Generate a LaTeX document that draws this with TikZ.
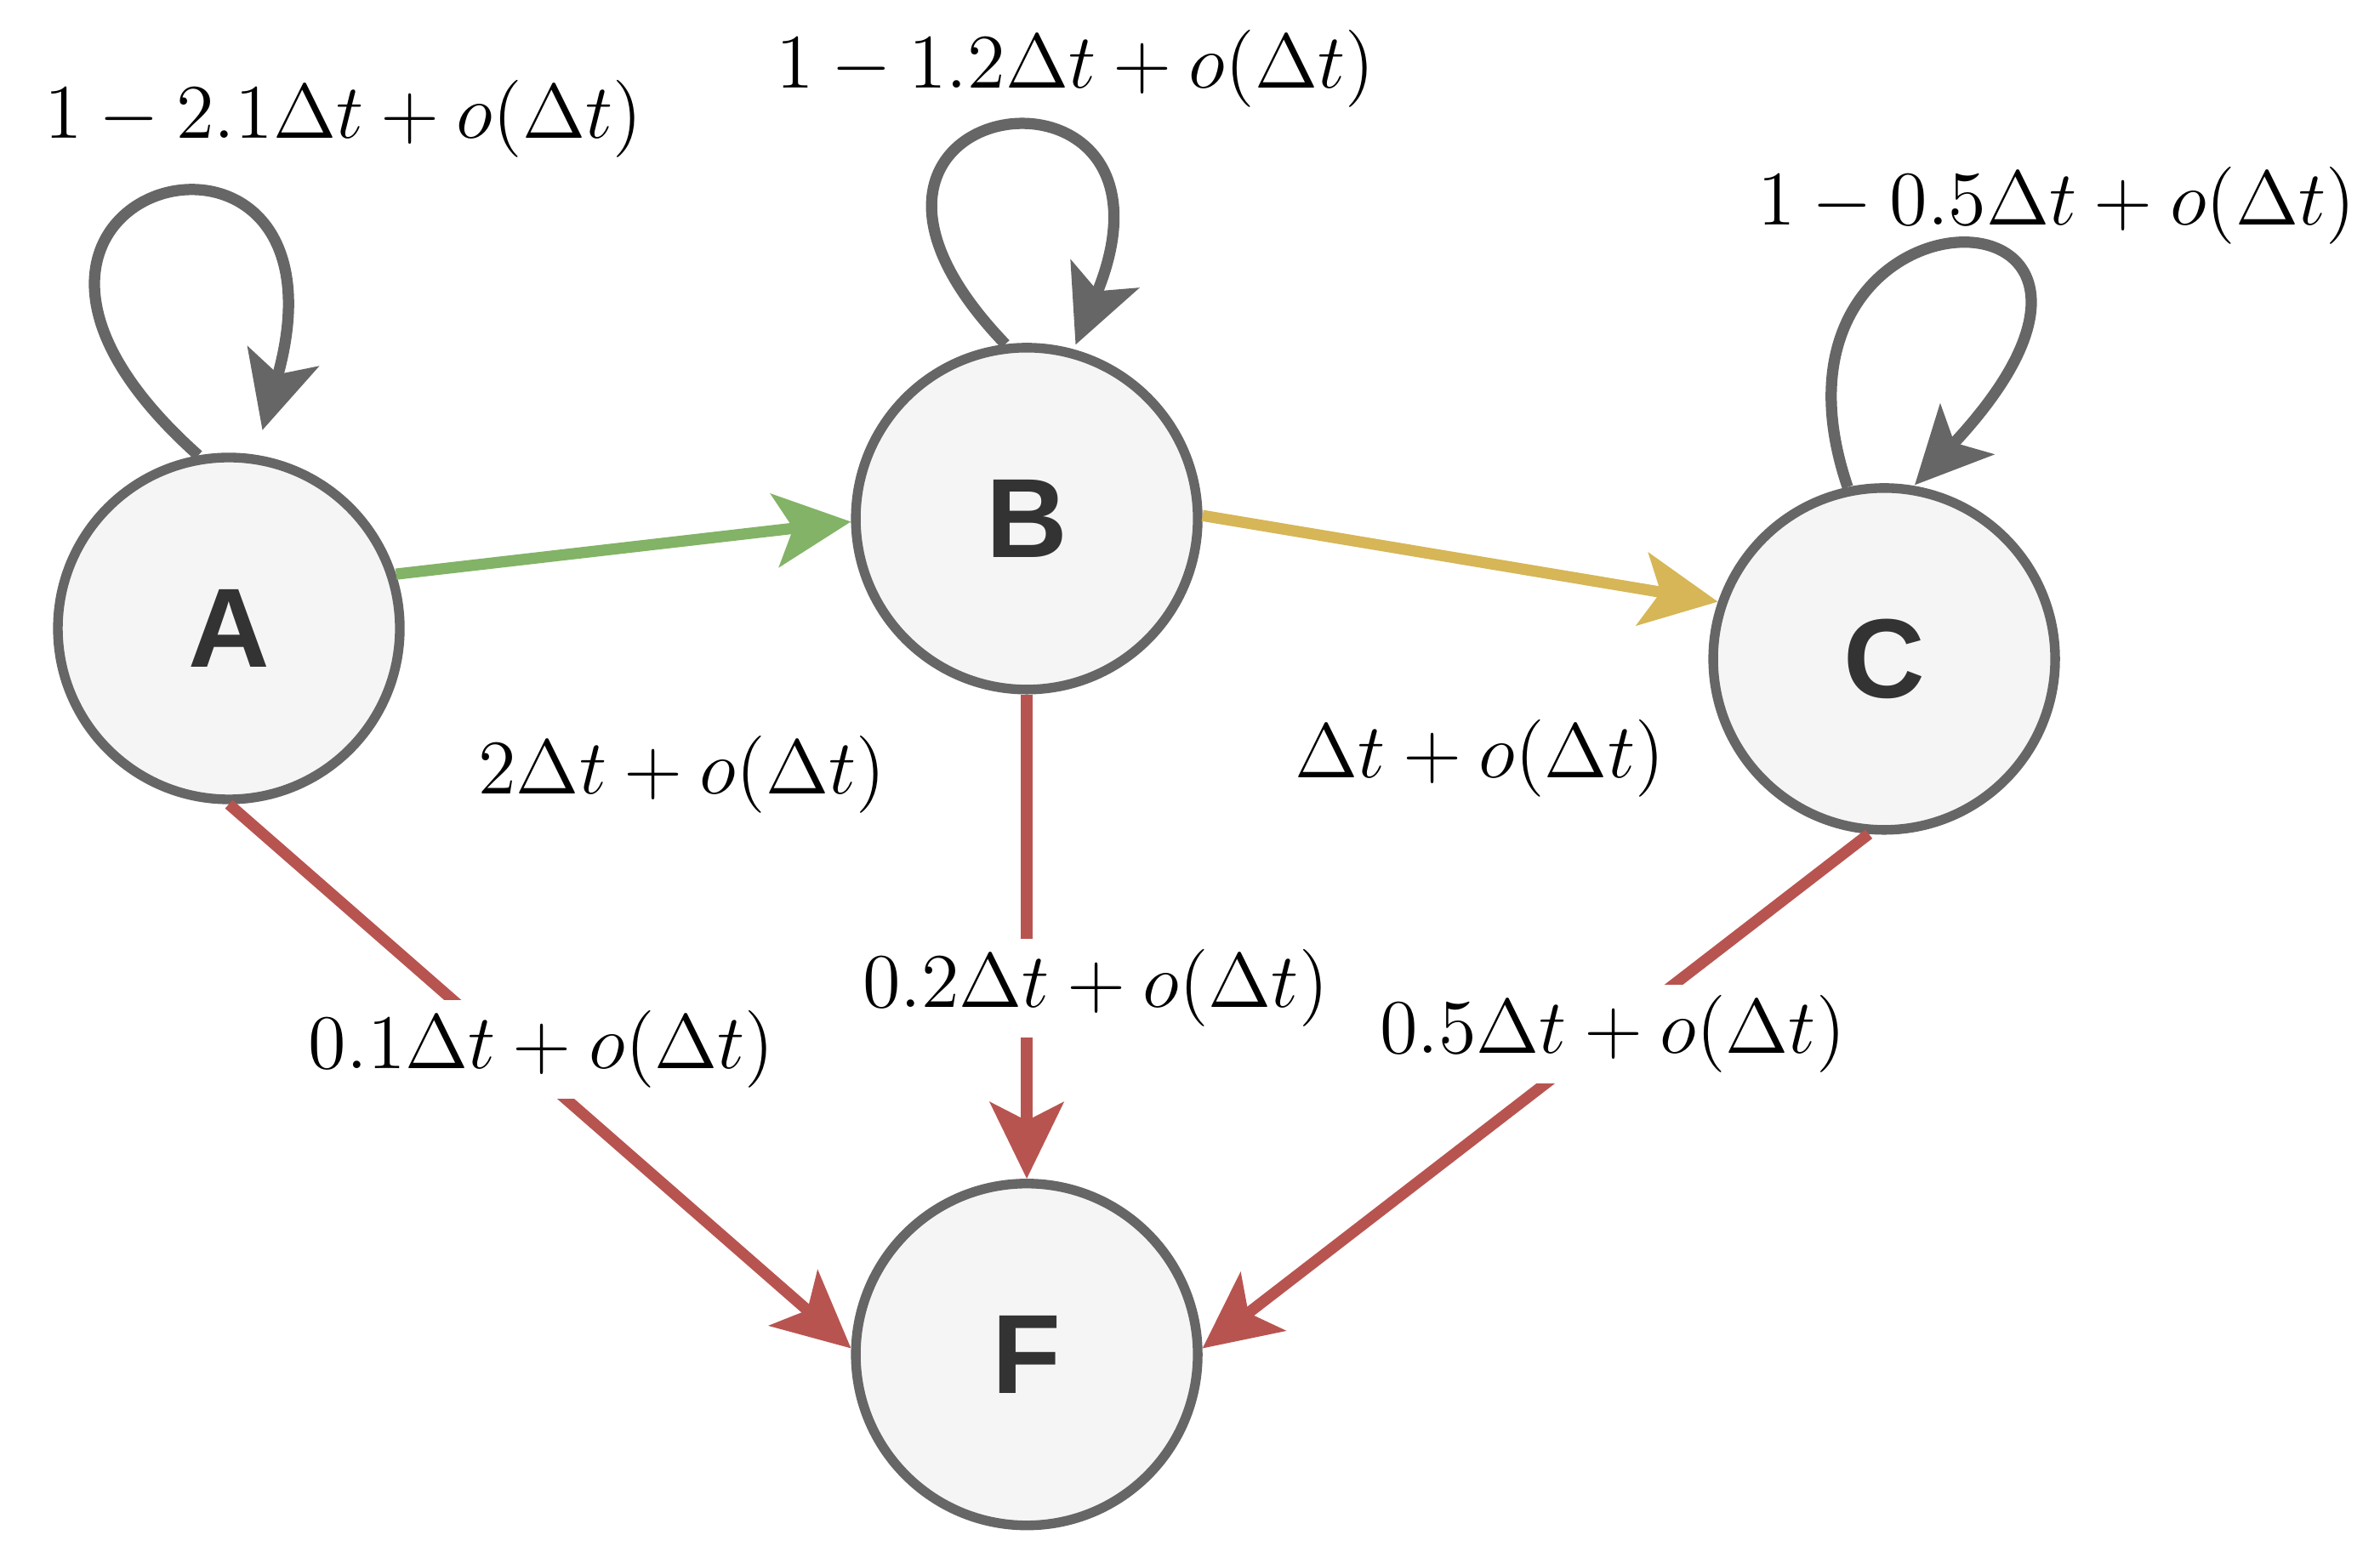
\documentclass[tikz,border=0pt]{standalone}
\usepackage{fontspec}
\setsansfont{Liberation Sans}
\usetikzlibrary{arrows.meta}
\begin{document}
\begin{tikzpicture}[x=0.01cm,y=-0.01cm,
  st/.style={circle,draw=gray40,fill=nodefill,line width=1.8pt,minimum size=2.24cm,inner sep=0pt,
    font=\sffamily\bfseries\fontsize{21}{24}\selectfont,text=black!80},
  ed/.style={line width=2.1pt,-{Stealth[length=0.5cm,width=0.48cm,inset=0.12cm]}},
  lb/.style={font=\fontsize{15.5}{18}\selectfont,inner sep=2pt},
  lbw/.style={lb,fill=white}]
\definecolor{gray40}{HTML}{666666}
\definecolor{nodefill}{HTML}{F5F5F5}
\definecolor{eg}{HTML}{82B366}
\definecolor{ey}{HTML}{D6B656}
\definecolor{er}{HTML}{B85450}
\useasboundingbox (0,0) rectangle (1560,1017);
\node[st] (A) at (150,412) {A};
\node[st] (B) at (673,340) {B};
\node[st] (C) at (1235,432) {C};
\node[st] (F) at (673,888) {F};
\coordinate (ta) at (172,282);
\coordinate (tb) at (705,226);
\coordinate (tc) at (1255,318);
\draw[ed,draw=gray40] (A.100) .. controls (-70,120) and (240,40) .. (ta);
\draw[ed,draw=gray40] (B.97) .. controls (500,60) and (790,20) .. (tb);
\draw[ed,draw=gray40] (C.102) .. controls (1140,110) and (1450,110) .. (tc);
\draw[ed,draw=eg] (A.18) -- (B.181);
\draw[ed,draw=ey] (B.1) -- (C.161);
\draw[ed,draw=er] (A.270) -- (F.178);
\draw[ed,draw=er] (B.270) -- (F.90);
\draw[ed,draw=er] (C.265) -- (F.2);
\node[lb] (la) at (225,78) {$1-2.1\Delta t+o(\Delta t)$};
\node[lb] (lb2) at (705,45) {$1-1.2\Delta t+o(\Delta t)$};
\node[lb] (lc) at (1348,135) {$1-0.5\Delta t+o(\Delta t)$};
\node[lb] (lab) at (447,508) {$2\Delta t+o(\Delta t)$};
\node[lb] (lbc) at (970,497) {$\Delta t+o(\Delta t)$};
\node[lbw] (laf) at (355,688) {$0.1\Delta t+o(\Delta t)$};
\node[lbw] (lbf) at (718,648) {$0.2\Delta t+o(\Delta t)$};
\node[lbw] (lcf) at (1057,678) {$0.5\Delta t+o(\Delta t)$};
\end{tikzpicture}
\end{document}
